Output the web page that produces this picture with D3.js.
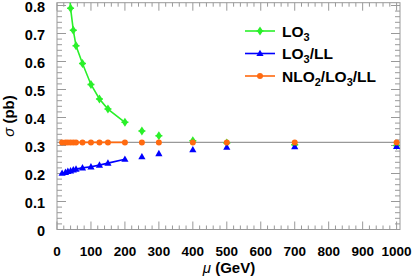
<!DOCTYPE html>
<html>
<head>
<meta charset="utf-8">
<script src="https://cdn.jsdelivr.net/npm/d3@7"></script>
<style>
body { margin: 0; background: #fff; }
text { font-family: "Liberation Sans", Arial, sans-serif; font-weight: bold; }
</style>
</head>
<body>
<div id="chart"></div>
<script>
// mu values (GeV)
var muLow = [15, 25, 32, 40, 48, 56, 75, 100, 125, 150, 200];
var muHigh = [250, 300, 400, 500, 700, 1000];

// LO3 (green)
var lo3Low = [1.5, 1.05, 0.92, 0.79, 0.712, 0.656, 0.593, 0.518, 0.466, 0.43, 0.383];
var lo3High = [0.352, 0.335, 0.317, 0.309, 0.303, 0.300];

// LO3/LL (blue)
var llLow = [0.201, 0.204, 0.2075, 0.2096, 0.2132, 0.2157, 0.22, 0.224, 0.23, 0.237, 0.251];
var llHigh = [0.26, 0.271, 0.285, 0.294, 0.296, 0.297];

// NLO2/LO3/LL (orange)
var nloLow = [0.311, 0.311, 0.311, 0.311, 0.311, 0.311, 0.311, 0.311, 0.311, 0.311, 0.311];
var nloHigh = [0.311, 0.311, 0.311, 0.311, 0.311, 0.311];
var refLine = 0.311;

var xTicks = [0, 100, 200, 300, 400, 500, 600, 700, 800, 900, 1000];
var yTicks = [0, 0.1, 0.2, 0.3, 0.4, 0.5, 0.6, 0.7, 0.8];

var width = 415, height = 277;
var x0 = 57, x1 = 400, yTop = 2.7, yBot = 229.5;

var svg = d3.select('#chart').append('svg')
  .attr('width', width).attr('height', height);

var x = d3.scaleLinear().domain([0, 1010]).range([x0, x1]);
var y = d3.scaleLinear().domain([0, 0.81]).range([yBot, yTop]);

var green = '#2af02a', blue = '#0000ff', orange = '#ff6a10', grey = '#999';

svg.append('defs').append('clipPath').attr('id', 'clip')
  .append('rect').attr('x', x0).attr('y', yTop).attr('width', x1 - x0).attr('height', yBot - yTop);

// frame
svg.append('rect')
  .attr('x', x0).attr('y', yTop).attr('width', x1 - x0).attr('height', yBot - yTop)
  .attr('fill', 'none').attr('stroke', grey).attr('stroke-width', 1);

// ticks (inside, all four sides)
var xMinor = d3.range(0, 1011, 20);
var yMinor = d3.range(0, 0.811, 0.02);
var tk = svg.append('g').attr('stroke', grey).attr('stroke-width', 1);
xMinor.forEach(function(v) {
  var major = Math.abs(v % 100) < 1e-6;
  var len = major ? 8 : 4;
  tk.append('line').attr('x1', x(v)).attr('x2', x(v)).attr('y1', yBot).attr('y2', yBot - len);
  tk.append('line').attr('x1', x(v)).attr('x2', x(v)).attr('y1', yTop).attr('y2', yTop + len);
});
yMinor.forEach(function(v, i) {
  var major = i % 5 === 0;
  var len = major ? 9 : 5;
  tk.append('line').attr('y1', y(v)).attr('y2', y(v)).attr('x1', x0).attr('x2', x0 + len);
  tk.append('line').attr('y1', y(v)).attr('y2', y(v)).attr('x1', x1).attr('x2', x1 - len);
});

// tick labels
svg.append('g').selectAll('text').data(xTicks).enter().append('text')
  .attr('x', function(d) { return x(d); })
  .attr('y', 256)
  .attr('text-anchor', 'middle')
  .style('font-size', '13.5px')
  .text(function(d) { return d; });

svg.append('g').selectAll('text').data(yTicks).enter().append('text')
  .attr('x', 45)
  .attr('y', function(d) { return y(d) + 6.5; })
  .attr('text-anchor', 'end')
  .style('font-size', '14.5px')
  .text(function(d) { return d === 0 ? '0' : d.toFixed(1); });

// axis titles
var xt = svg.append('text').attr('x', 229).attr('y', 273).attr('text-anchor', 'middle').style('font-size', '15px');
xt.append('tspan').style('font-style', 'italic').style('font-weight', 'normal').text('μ');
xt.append('tspan').text(' (GeV)');

var yt = svg.append('text').attr('transform', 'translate(14,116) rotate(-90)').attr('text-anchor', 'middle').style('font-size', '15px');
yt.append('tspan').style('font-style', 'italic').style('font-weight', 'normal').text('σ');
yt.append('tspan').text(' (pb)');

// reference horizontal line
svg.append('line')
  .attr('x1', x0).attr('x2', x1).attr('y1', y(refLine)).attr('y2', y(refLine))
  .attr('stroke', grey).attr('stroke-width', 1.3);

var line = d3.line().x(function(d) { return x(d[0]); }).y(function(d) { return y(d[1]); });
var plot = svg.append('g').attr('clip-path', 'url(#clip)');

function pts(a, b) { return a.map(function(m, i) { return [m, b[i]]; }); }

var series = [
  { low: pts(muLow, lo3Low), high: pts(muHigh, lo3High), color: green, marker: 'diamond' },
  { low: pts(muLow, llLow), high: pts(muHigh, llHigh), color: blue, marker: 'triangle' },
  { low: pts(muLow, nloLow), high: pts(muHigh, nloHigh), color: orange, marker: 'circle' }
];

function drawMarker(g, cx, cy, kind, color) {
  if (kind === 'diamond') {
    g.append('path').attr('d', 'M' + cx + ',' + (cy - 4.5) + 'L' + (cx + 3) + ',' + cy + 'L' + cx + ',' + (cy + 4.5) + 'L' + (cx - 3) + ',' + cy + 'Z')
      .attr('fill', color);
    g.append('line').attr('x1', cx - 3.5).attr('x2', cx + 3.5).attr('y1', cy).attr('y2', cy)
      .attr('stroke', color).attr('stroke-width', 1.5);
  } else if (kind === 'triangle') {
    g.append('path').attr('d', 'M' + cx + ',' + (cy - 3.8) + 'L' + (cx + 3.6) + ',' + (cy + 2.6) + 'L' + (cx - 3.6) + ',' + (cy + 2.6) + 'Z')
      .attr('fill', color);
  } else {
    g.append('circle').attr('cx', cx).attr('cy', cy).attr('r', 3).attr('fill', color);
  }
}

series.forEach(function(s) {
  plot.append('path').datum(s.low).attr('d', line)
    .attr('fill', 'none').attr('stroke', s.color).attr('stroke-width', 1.6);
});
series.forEach(function(s) {
  s.low.concat(s.high).forEach(function(p) {
    drawMarker(plot, x(p[0]), y(p[1]), s.marker, s.color);
  });
});

// legend
var legend = [
  { label: ['LO', '3', ''], color: green, marker: 'diamond' },
  { label: ['LO', '3', '/LL'], color: blue, marker: 'triangle' },
  { label: ['NLO', '2', '/LO', '3', '/LL'], color: orange, marker: 'circle' }
];
legend.forEach(function(d, i) {
  var ly = 31 + i * 22.5;
  var lg = svg.append('g');
  lg.append('line').attr('x1', 245).attr('x2', 275).attr('y1', ly).attr('y2', ly)
    .attr('stroke', d.color).attr('stroke-width', 1.6);
  drawMarker(lg, 260, ly, d.marker, d.color);
  var t = lg.append('text').attr('x', 282).attr('y', ly + 5.5).style('font-size', '15.5px');
  d.label.forEach(function(part, j) {
    if (part === '') return;
    if (j % 2 === 1) {
      t.append('tspan').attr('dy', 4).style('font-size', '11px').text(part);
    } else {
      t.append('tspan').attr('dy', j === 0 ? 0 : -4).text(part);
    }
  });
});
</script>
</body>
</html>
